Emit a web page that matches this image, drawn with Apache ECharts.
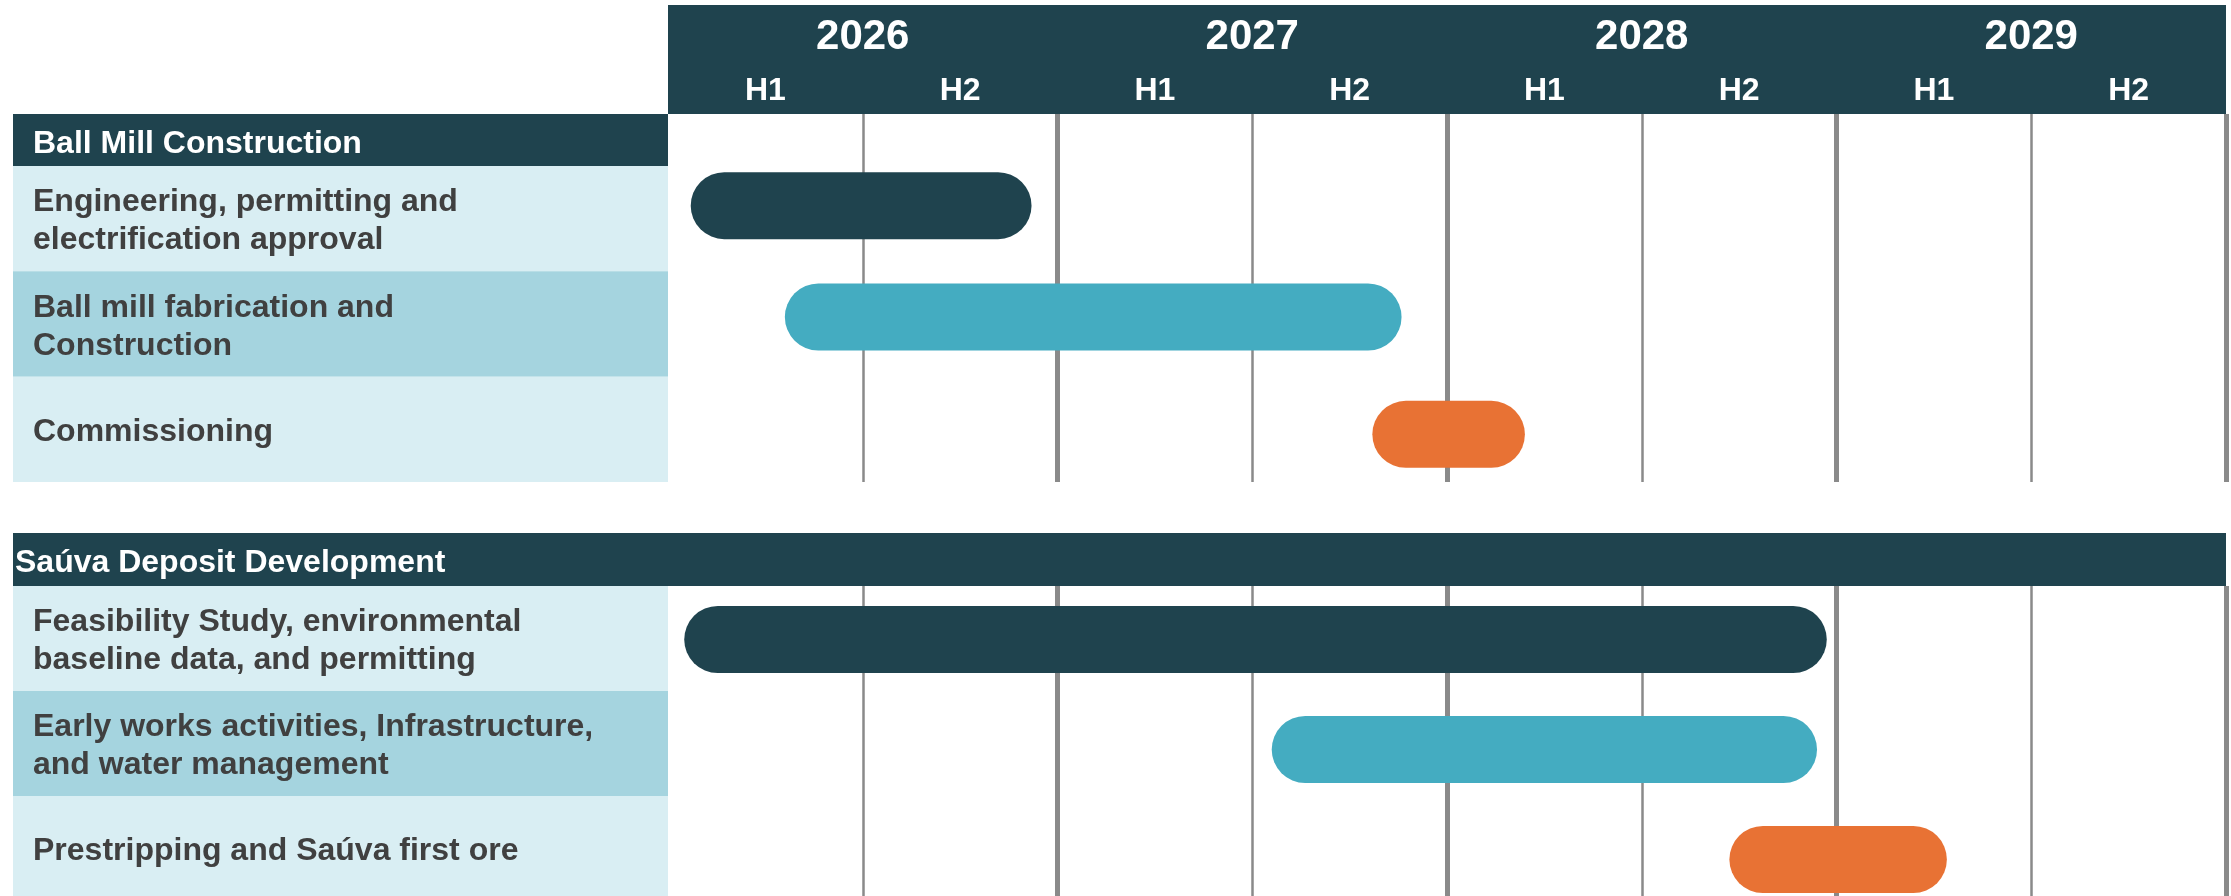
<!DOCTYPE html>
<html>
<head>
<meta charset="utf-8">
<title>Project timeline</title>
<script src="https://cdn.jsdelivr.net/npm/echarts@6/dist/echarts.min.js"></script>
<style>
html, body { margin: 0; padding: 0; background: #fff; }
#main { width: 2231px; height: 896px; }
</style>
</head>
<body>
<div id="main"></div>
<script>
var years = ['2026', '2027', '2028', '2029'];
var halves = ['H1', 'H2', 'H1', 'H2', 'H1', 'H2', 'H1', 'H2'];
var sectionNames = ['Ball Mill Construction', 'Saúva Deposit Development'];

// start / end in months counted from Jan 2026
var ballMillTasks = [
    'Engineering, permitting and\nelectrification approval',
    'Ball mill fabrication and\nConstruction',
    'Commissioning'
];
var ballMillStart = [0.7, 3.6, 21.7];
var ballMillEnd = [11.2, 22.6, 26.4];

var sauvaTasks = [
    'Feasibility Study, environmental\nbaseline data, and permitting',
    'Early works activities, Infrastructure,\nand water management',
    'Prestripping and Saúva first ore'
];
var sauvaStart = [0.5, 18.6, 32.7];
var sauvaEnd = [35.7, 35.4, 39.4];

var DARK = '#1f434e', TEAL = '#44acc1', ORANGE = '#e87234';
var ROW_LIGHT = '#d9eef3', ROW_MID = '#a5d4df', TEXT = '#404040', LINE = '#8a8a8a';
var FONT = '"Liberation Sans", Arial, sans-serif';
var barColors = [DARK, TEAL, ORANGE];
var BAR_H = 67;

var chartLeft = 668, chartWidth = 1558;

// bars in the original sit a little off the row centres
function makeBar(nudge) {
    return function (params, api) {
        var idx = api.value(0);
        var p0 = api.coord([api.value(1), idx]);
        var p1 = api.coord([api.value(2), idx]);
        var yc = p0[1] + nudge[idx];
        return {
            type: 'rect',
            shape: { x: p0[0], y: yc - BAR_H / 2, width: p1[0] - p0[0], height: BAR_H, r: BAR_H / 2 },
            style: { fill: barColors[idx % 3] }
        };
    };
}

function makeCell(tasks) {
    return function (params, api) {
        var idx = api.value(1);
        var c = api.coord([0, idx]);
        var h = api.size([1, 1])[1];
        var x0 = params.coordSys.x, w = params.coordSys.width;
        return {
            type: 'group',
            children: [{
                type: 'rect',
                shape: { x: x0, y: c[1] - h / 2, width: w, height: h },
                style: { fill: idx % 2 ? ROW_MID : ROW_LIGHT }
            }, {
                type: 'text',
                x: x0 + 20,
                y: c[1] + 3,
                style: {
                    text: tasks[idx], fill: TEXT, fontSize: 32, fontWeight: 'bold',
                    fontFamily: FONT, lineHeight: 38, align: 'left', verticalAlign: 'middle'
                }
            }]
        };
    };
}

function timeAxis(grid, lines) {
    return {
        gridIndex: grid, type: 'value', min: 0, max: 48, interval: 12,
        axisLine: { show: false }, axisTick: { show: false }, axisLabel: { show: false },
        splitLine: { show: lines, showMinLine: false, lineStyle: { color: LINE, width: 5 } },
        minorTick: { show: false, splitNumber: 2 },
        minorSplitLine: { show: lines, lineStyle: { color: LINE, width: 2.5 } }
    };
}

function cellAxis(grid) {
    return { gridIndex: grid, type: 'value', min: 0, max: 1, show: false };
}

function headLabel(size, margin) {
    return {
        inside: true, interval: 0, margin: margin, verticalAlign: 'middle',
        color: '#fff', fontSize: size, fontWeight: 'bold', fontFamily: FONT
    };
}

var gridBase = { containLabel: false, outerBoundsMode: 'none', borderWidth: 0 };
function grid(l, t, w, h, bg) {
    var g = Object.assign({ left: l, top: t, width: w, height: h }, gridBase);
    if (bg) { g.show = true; g.backgroundColor = bg; }
    return g;
}

var myChart = echarts.init(document.getElementById('main'));
var option = {
    animation: false,
    backgroundColor: '#fff',
    grid: [
        grid(chartLeft, 5, chartWidth, 109, DARK),   // 0 header
        grid(chartLeft, 114, chartWidth, 368),       // 1 section 1 lines
        grid(chartLeft, 166, chartWidth, 316),       // 2 section 1 bars
        grid(13, 166, 655, 316),                     // 3 section 1 labels
        grid(chartLeft, 586, chartWidth, 315),       // 4 section 2 bars + lines
        grid(13, 586, 655, 315)                      // 5 section 2 labels
    ],
    xAxis: [
        {
            gridIndex: 0, type: 'category', data: halves, position: 'bottom',
            axisLine: { show: false }, axisTick: { show: false }, splitLine: { show: false },
            axisLabel: headLabel(32, 23)
        },
        {
            gridIndex: 0, type: 'category', data: years, position: 'top',
            axisLine: { show: false }, axisTick: { show: false }, splitLine: { show: false },
            axisLabel: headLabel(42, 32)
        },
        timeAxis(1, true),
        timeAxis(2, false),
        cellAxis(3),
        timeAxis(4, true),
        cellAxis(5)
    ],
    yAxis: [
        { gridIndex: 0, type: 'value', show: false },
        { gridIndex: 1, type: 'value', show: false },
        { gridIndex: 2, type: 'category', data: ballMillTasks, inverse: true, show: false },
        { gridIndex: 3, type: 'category', data: ballMillTasks, inverse: true, show: false },
        { gridIndex: 4, type: 'category', data: sauvaTasks, inverse: true, show: false },
        { gridIndex: 5, type: 'category', data: sauvaTasks, inverse: true, show: false }
    ],
    graphic: [
        { type: 'rect', shape: { x: 13, y: 114, width: 655, height: 52 }, style: { fill: DARK } },
        {
            type: 'text', x: 33, y: 144,
            style: { text: sectionNames[0], fill: '#fff', fontSize: 32, fontWeight: 'bold', fontFamily: FONT, verticalAlign: 'middle' }
        },
        { type: 'rect', shape: { x: 13, y: 533, width: 2213, height: 53 }, style: { fill: DARK } },
        {
            type: 'text', x: 15, y: 563,
            style: { text: sectionNames[1], fill: '#fff', fontSize: 32, fontWeight: 'bold', fontFamily: FONT, verticalAlign: 'middle' }
        }
    ],
    series: [
        {
            type: 'custom', xAxisIndex: 3, yAxisIndex: 2, silent: true,
            renderItem: makeBar([-13, -7, 5]), encode: { x: [1, 2], y: 0 },
            data: ballMillTasks.map(function (t, i) { return [i, ballMillStart[i], ballMillEnd[i]]; })
        },
        {
            type: 'custom', xAxisIndex: 4, yAxisIndex: 3, silent: true,
            renderItem: makeCell(ballMillTasks), encode: { x: 0, y: 1 },
            data: ballMillTasks.map(function (t, i) { return [0, i]; })
        },
        {
            type: 'custom', xAxisIndex: 5, yAxisIndex: 4, silent: true,
            renderItem: makeBar([1, 6, 11]), encode: { x: [1, 2], y: 0 },
            data: sauvaTasks.map(function (t, i) { return [i, sauvaStart[i], sauvaEnd[i]]; })
        },
        {
            type: 'custom', xAxisIndex: 6, yAxisIndex: 5, silent: true,
            renderItem: makeCell(sauvaTasks), encode: { x: 0, y: 1 },
            data: sauvaTasks.map(function (t, i) { return [0, i]; })
        }
    ]
};
myChart.setOption(option);
</script>
</body>
</html>
